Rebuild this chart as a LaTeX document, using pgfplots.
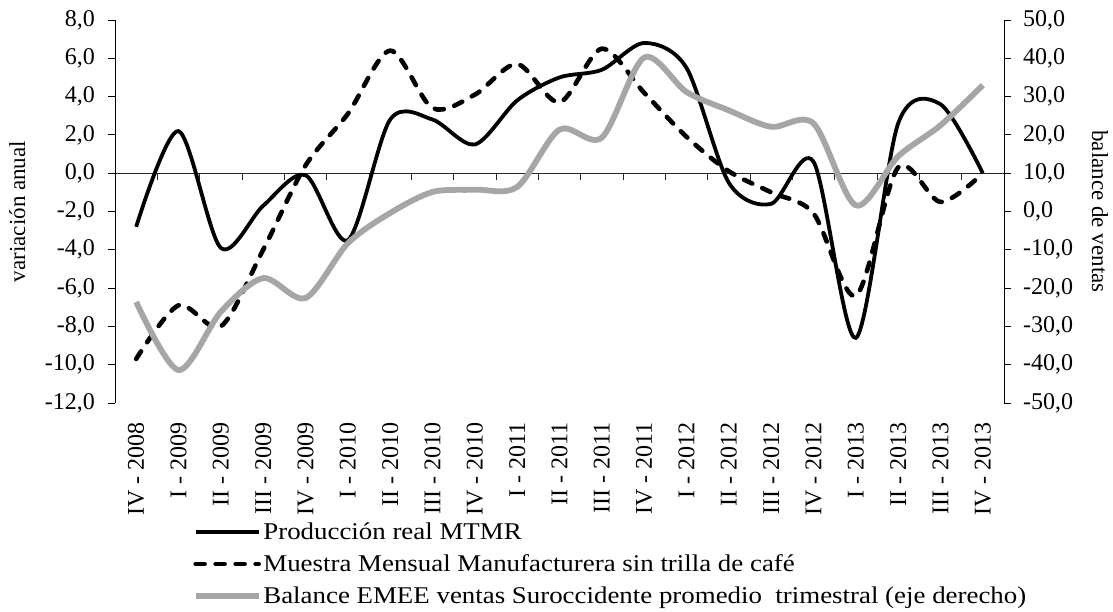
\documentclass[border=0pt]{standalone}
\usepackage{fontspec}
\setmainfont{Liberation Serif}
\newfontfamily\legendfont{Liberation Serif}[FakeStretch=1.12]
\usepackage{pgfplots}
\pgfplotsset{compat=1.18}
\definecolor{linegray}{RGB}{166,166,166}
\pgfplotsset{
  common/.style={at={(115pt,209pt)}, anchor=south west, scale only axis,
    width=889pt, height=383pt, xmin=-0.5, xmax=20.5,
    font=\fontsize{24}{28}\selectfont,
    tick align=outside, major tick length=7pt},
}
\begin{document}
\begin{tikzpicture}
\path[use as bounding box] (0,0) rectangle (1113pt,612pt);
% zero line with category ticks
\begin{axis}[common, ymin=-12, ymax=8,
  axis x line*=middle, axis y line=none,
  xtick={0.5,1.5,...,19.5}, xticklabels={}, ytick=\empty,
  x axis line style={black!85, line width=0.9pt},
  xtick style={black!85, line width=0.9pt}]
\addplot[draw=none] coordinates {(0,0)};
\end{axis}
% left axis
\begin{axis}[common, ymin=-12, ymax=8,
  axis y line*=left, axis x line*=bottom,
  x axis line style={opacity=0}, xtick style={draw=none},
  xtick={0,...,20},
  xticklabels={IV - 2008, I - 2009, II - 2009, III - 2009, IV - 2009, I - 2010, II - 2010, III - 2010, IV - 2010, I - 2011, II - 2011, III - 2011, IV - 2011, I - 2012, II - 2012, III - 2012, IV - 2012, I - 2013, II - 2013, III - 2013, IV - 2013},
  xticklabel style={rotate=90, anchor=east, inner sep=0pt},
  xticklabel shift=12pt,
  ytick={-12,-10,...,8},
  yticklabels={{-12,0},{-10,0},{-8,0},{-6,0},{-4,0},{-2,0},{0,0},{2,0},{4,0},{6,0},{8,0}},
  yticklabel style={inner sep=0pt, xshift=-13pt},
  ytick style={black, line width=0.9pt},
  y axis line style={black, line width=0.9pt},
  ylabel={variación anual},
  every axis y label/.style={at={(axis description cs:-0.1011,0.5)}, rotate=90, anchor=base, font=\fontsize{23}{27}\selectfont},
  legend style={at={(axis description cs:0.084,-0.303)}, anchor=north west,
    draw=none, fill=none, font=\fontsize{24}{28}\legendfont, row sep=9.5pt},
  legend cell align=left,
  legend image code/.code={\draw[#1] (0pt,0pt) -- (63pt,0pt);},
]
\addplot[black, line width=3.8pt, smooth] coordinates {
(0,-2.8) (1,2.2) (2,-3.9) (3,-1.7) (4,-0.1) (5,-3.5) (6,2.8) (7,2.8) (8,1.5) (9,3.8) (10,5.0)
(11,5.4) (12,6.8) (13,5.5) (14,-0.5) (15,-1.6) (16,0.6) (17,-8.6) (18,2.6) (19,3.6) (20,0.0)};
\addlegendentry{Producción real MTMR}
\addplot[black, line width=4.6pt, smooth, dash pattern=on 9pt off 11pt, line cap=round] coordinates {
(0,-9.7) (1,-6.9) (2,-8.0) (3,-4.0) (4,0.4) (5,3.1) (6,6.4) (7,3.4) (8,4.1) (9,5.7) (10,3.7)
(11,6.5) (12,4.2) (13,1.9) (14,0.1) (15,-1.0) (16,-2.1) (17,-6.4) (18,0.3) (19,-1.5) (20,0.0)};
\addlegendentry{Muestra Mensual Manufacturera sin trilla de café}
\addlegendimage{linegray, line width=5.5pt}
\addlegendentry{Balance EMEE ventas Suroccidente promedio\ \ trimestral (eje derecho)}
\end{axis}
% right axis
\begin{axis}[common, ymin=-50, ymax=50,
  axis y line*=right, axis x line=none,
  ytick={-50,-40,...,50},
  yticklabels={{-50,0},{-40,0},{-30,0},{-20,0},{-10,0},{0,0},{10,0},{20,0},{30,0},{40,0},{50,0}},
  yticklabel style={inner sep=0pt, xshift=12pt},
  ytick style={black, line width=0.9pt},
  y axis line style={black, line width=0.9pt},
  ylabel={balance de ventas},
  every axis y label/.style={at={(axis description cs:1.099,0.5)}, rotate=-90, anchor=base, font=\fontsize{23}{27}\selectfont},
]
\addplot[linegray, line width=5.8pt, smooth] coordinates {
(0,-23.6) (1,-41.4) (2,-26.2) (3,-17.4) (4,-22.6) (5,-8.3) (6,-0.4) (7,5.1) (8,5.7) (9,6.4) (10,21.4)
(11,19.3) (12,40.2) (13,31.2) (14,26.4) (15,22.1) (16,23.0) (17,1.6) (18,14.4) (19,22.5) (20,33.0)};
\end{axis}
\end{tikzpicture}
\end{document}
